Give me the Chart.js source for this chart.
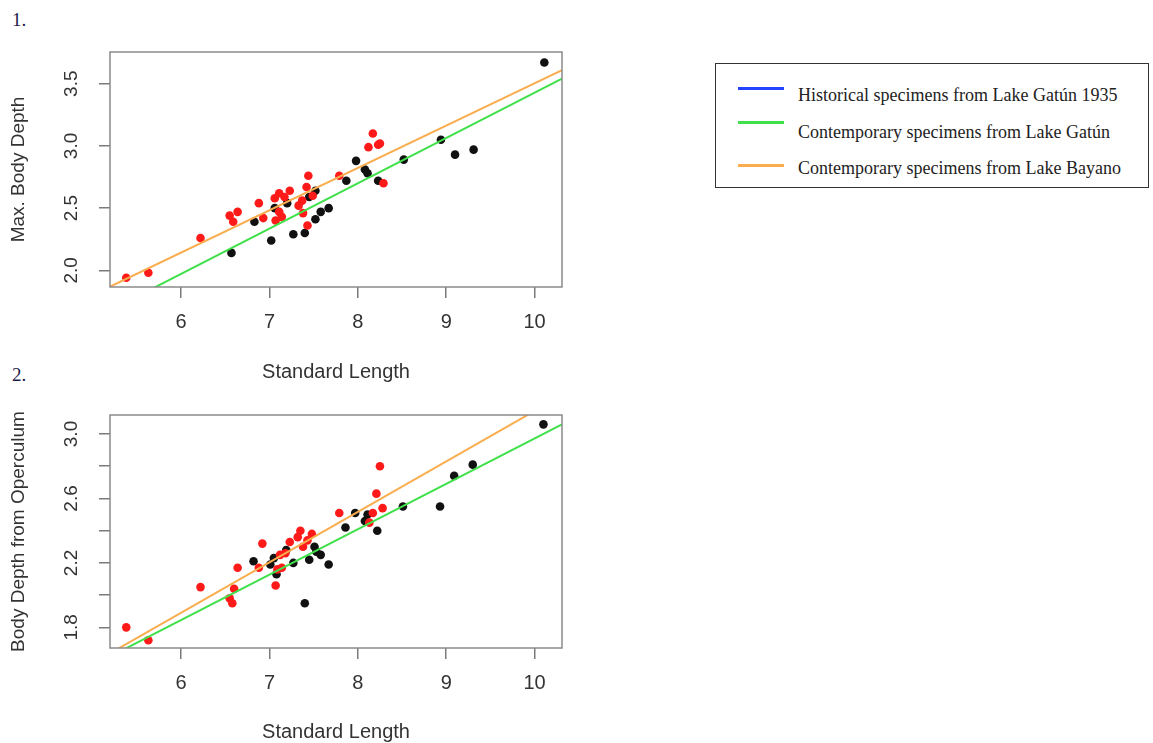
<!DOCTYPE html>
<html lang="en">
<head>
<meta charset="UTF-8">
<title>Body depth vs standard length</title>
<script src="https://cdn.jsdelivr.net/npm/chart.js@4"></script>
<style>
    body { margin: 0; background: #fff; width: 1153px; height: 743px; overflow: hidden; position: relative; font-family: 'Liberation Serif', serif; }
    .num { position: absolute; left: 12px; font-size: 19px; color: #1c1c4a; }
    #c1 { position: absolute; left: 0; top: 0; }
    #c2 { position: absolute; left: 0; top: 390px; }
    .legend { position: absolute; left: 715px; top: 63px; width: 434px; height: 125px; border: 1.5px solid #333; box-sizing: border-box; }
    .legend .item { position: absolute; left: 82px; font-size: 18px; line-height: 20px; color: #222; white-space: nowrap; }
    .legend .swatch { position: absolute; left: -60px; width: 46px; height: 3px; }
</style>
</head>
<body>
<div class="num" style="top:9px">1.</div>
<div class="num" style="top:364px">2.</div>
<canvas id="c1" width="580" height="390"></canvas>
<canvas id="c2" width="580" height="353"></canvas>
<div class="legend" id="legend"></div>

<script>
// axis ticks
const xTicks = [6, 7, 8, 9, 10];
const yTicksTop = [2.0, 2.5, 3.0, 3.5];
const yTicksBottom = [1.8, 2.0, 2.2, 2.4, 2.6, 2.8, 3.0];
const yLabelsBottom = [1.8, 2.2, 2.6, 3.0];

// legend
const legendLabels = ['Historical specimens from Lake Gatún 1935', 'Contemporary specimens from Lake Gatún', 'Contemporary specimens from Lake Bayano'];
const legendColors = ['#2443ff', '#3fe04a', '#f9ad4e'];

// plot 1: max body depth (black = Gatún, red = Bayano)
const gatunLen1 = [6.57, 7.02, 6.83, 7.27, 7.40, 7.52, 7.58, 7.67, 7.06, 7.20, 7.45, 7.52, 7.87, 7.98, 8.08, 8.11, 8.23, 8.52, 8.94, 9.10, 9.31, 10.11];
const gatunDepth1 = [2.14, 2.24, 2.39, 2.29, 2.30, 2.41, 2.47, 2.50, 2.50, 2.54, 2.59, 2.64, 2.72, 2.88, 2.81, 2.78, 2.72, 2.89, 3.05, 2.93, 2.97, 3.67];
const bayanoLen1 = [5.38, 5.63, 6.22, 6.55, 6.59, 6.64, 6.88, 6.93, 7.06, 7.11, 7.17, 7.23, 7.07, 7.14, 7.11, 7.33, 7.37, 7.38, 7.43, 7.42, 7.44, 7.49, 7.79, 8.12, 8.17, 8.23, 8.25, 8.29];
const bayanoDepth1 = [1.94, 1.98, 2.26, 2.44, 2.39, 2.47, 2.54, 2.42, 2.58, 2.62, 2.59, 2.64, 2.40, 2.43, 2.47, 2.52, 2.56, 2.46, 2.36, 2.67, 2.76, 2.60, 2.76, 2.99, 3.10, 3.01, 3.02, 2.70];

// plot 2: body depth from operculum
const gatunLen2 = [6.82, 7.01, 7.05, 7.08, 7.19, 7.27, 7.40, 7.45, 7.51, 7.53, 7.58, 7.67, 7.86, 7.97, 8.08, 8.11, 8.22, 8.51, 8.93, 9.09, 9.30, 10.10];
const gatunDepth2 = [2.21, 2.19, 2.23, 2.13, 2.28, 2.20, 1.95, 2.22, 2.30, 2.27, 2.25, 2.19, 2.42, 2.51, 2.46, 2.50, 2.40, 2.55, 2.55, 2.74, 2.81, 3.06];
const bayanoLen2 = [5.38, 5.63, 6.22, 6.55, 6.58, 6.60, 6.64, 6.88, 6.92, 7.07, 7.09, 7.14, 7.12, 7.18, 7.23, 7.32, 7.35, 7.38, 7.43, 7.48, 7.79, 8.13, 8.17, 8.21, 8.25, 8.28];
const bayanoDepth2 = [1.80, 1.72, 2.05, 1.98, 1.95, 2.04, 2.17, 2.17, 2.32, 2.06, 2.16, 2.17, 2.25, 2.26, 2.33, 2.36, 2.40, 2.30, 2.34, 2.38, 2.51, 2.45, 2.51, 2.63, 2.80, 2.54];

const fitX = [5.2, 10.31];
const gatunFit1 = [1.68, 3.54];
const bayanoFit1 = [1.87, 3.61];
const gatunFit2 = [1.62, 3.06];
const bayanoFit2 = [1.64, 3.24];

const FONT = "'Liberation Sans', Arial, sans-serif";
const TEXT = '#333';

function pts(xs, ys) {
    return xs.map(function(x, i) { return { x: x, y: ys[i] }; });
}

// legend
const legend = document.getElementById('legend');
const legendTops = [21, 58, 94];
const swatchTops = [23, 57, 100];
legendLabels.forEach(function(label, i) {
    const d = document.createElement('div');
    d.className = 'item';
    d.style.top = legendTops[i] + 'px';
    d.textContent = label;
    const s = document.createElement('span');
    s.className = 'swatch';
    s.style.background = legendColors[i];
    s.style.top = (swatchTops[i] - legendTops[i]) + 'px';
    d.appendChild(s);
    legend.appendChild(d);
});

// box round the plot and y labels written along the axis
const frame = {
    id: 'frame',
    afterDraw(chart, args, opts) {
        const ctx = chart.ctx;
        const a = chart.chartArea;
        ctx.save();
        ctx.strokeStyle = '#8a8a8a';
        ctx.lineWidth = 1.5;
        ctx.strokeRect(a.left, a.top, a.right - a.left, a.bottom - a.top);
        ctx.fillStyle = TEXT;
        ctx.font = '19px ' + FONT;
        ctx.textAlign = 'center';
        ctx.textBaseline = 'middle';
        opts.labels.forEach(function(v) {
            const y = chart.scales.y.getPixelForValue(v);
            ctx.save();
            ctx.translate(a.left - 38, y);
            ctx.rotate(-Math.PI / 2);
            ctx.fillText(v.toFixed(1), 0, 0);
            ctx.restore();
        });
        ctx.restore();
    }
};

function makeChart(id, o) {
    return new Chart(document.getElementById(id), {
        type: 'scatter',
        data: {
            datasets: [
                { data: pts(fitX, o.bayanoFit), showLine: true, borderColor: legendColors[2], borderWidth: 2, pointRadius: 0 },
                { data: pts(fitX, o.gatunFit), showLine: true, borderColor: legendColors[1], borderWidth: 2, pointRadius: 0 },
                { data: pts(o.bayanoLen, o.bayanoDepth), backgroundColor: '#ff1a1a', borderWidth: 0, pointRadius: 4.3 },
                { data: pts(o.gatunLen, o.gatunDepth), backgroundColor: '#111', borderWidth: 0, pointRadius: 4.3 }
            ]
        },
        options: {
            responsive: false,
            animation: false,
            devicePixelRatio: 1,
            layout: { padding: { top: o.padTop, right: 18, left: 0, bottom: 0 } },
            plugins: {
                legend: { display: false },
                tooltip: { enabled: false },
                frame: { labels: o.yLabels }
            },
            scales: {
                x: {
                    min: 5.196, max: 10.31,
                    afterBuildTicks: function(s) { s.ticks = xTicks.map(function(v) { return { value: v }; }); },
                    afterFit: function(s) { s.height = o.xHeight; },
                    grid: { drawOnChartArea: false, tickLength: 11, color: '#7a7a7a', lineWidth: 1.5 },
                    border: { display: false },
                    ticks: { color: TEXT, font: { family: FONT, size: 20 }, padding: 12, maxRotation: 0 },
                    title: { display: true, text: 'Standard Length', color: TEXT, font: { family: FONT, size: 20 }, padding: { top: 0, bottom: o.titlePad } }
                },
                y: {
                    min: o.yMin, max: o.yMax,
                    afterBuildTicks: function(s) { s.ticks = o.yTicks.map(function(v) { return { value: v }; }); },
                    afterFit: function(s) { s.width = 110; },
                    grid: { drawOnChartArea: false, tickLength: 11, color: '#7a7a7a', lineWidth: 1.5 },
                    border: { display: false },
                    ticks: { display: false },
                    title: { display: true, text: o.yTitle, color: TEXT, font: { family: FONT, size: 19 }, padding: { top: 7, bottom: 0 } }
                }
            }
        },
        plugins: [frame]
    });
}

makeChart('c1', {
    gatunLen: gatunLen1, gatunDepth: gatunDepth1, bayanoLen: bayanoLen1, bayanoDepth: bayanoDepth1,
    gatunFit: gatunFit1, bayanoFit: bayanoFit1,
    yMin: 1.866, yMax: 3.755, yTicks: yTicksTop, yLabels: yTicksTop,
    yTitle: 'Max. Body Depth', padTop: 52, xHeight: 103, titlePad: 6
});

makeChart('c2', {
    gatunLen: gatunLen2, gatunDepth: gatunDepth2, bayanoLen: bayanoLen2, bayanoDepth: bayanoDepth2,
    gatunFit: gatunFit2, bayanoFit: bayanoFit2,
    yMin: 1.672, yMax: 3.118, yTicks: yTicksBottom, yLabels: yLabelsBottom,
    yTitle: 'Body Depth from Operculum', padTop: 25, xHeight: 95, titlePad: -1
});
</script>
</body>
</html>
